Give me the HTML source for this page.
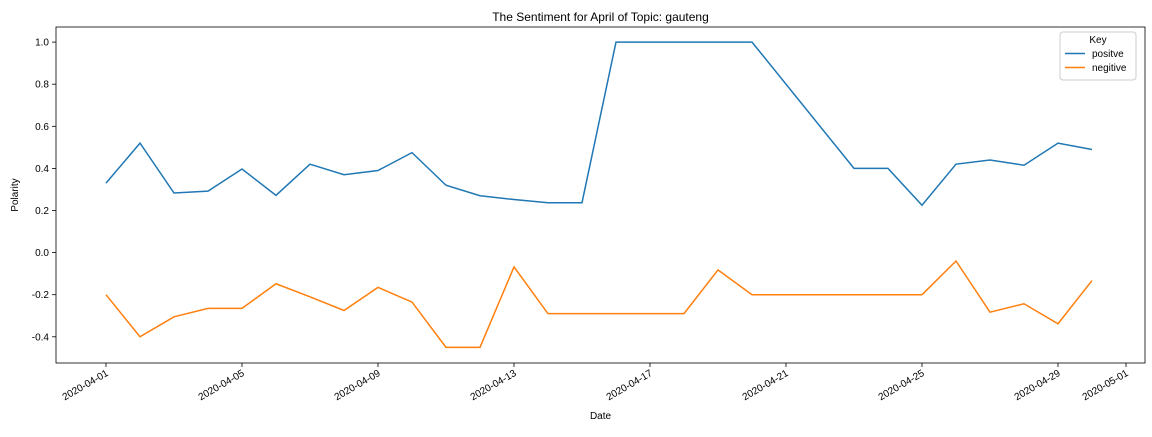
<!DOCTYPE html>
<html><head><meta charset="utf-8"><style>
body{margin:0;background:#fff;font-family:"Liberation Sans","DejaVu Sans",sans-serif;}
svg text{font-family:"Liberation Sans","DejaVu Sans",sans-serif;}
</style></head><body>
<svg id="c" width="1152" height="432" xmlns="http://www.w3.org/2000/svg"></svg>
<script>
const days=[1,2,3,4,5,6,7,8,9,10,11,12,13,14,15,16,17,18,19,20,23,24,25,26,27,28,29,30];
const positive=[0.33,0.52,0.283,0.292,0.397,0.272,0.42,0.37,0.39,0.475,0.32,0.27,0.252,0.237,0.237,1.0,1.0,1.0,1.0,1.0,0.40,0.40,0.225,0.42,0.44,0.415,0.52,0.49];
const negative=[-0.2,-0.4,-0.305,-0.265,-0.265,-0.148,-0.21,-0.275,-0.165,-0.235,-0.45,-0.45,-0.068,-0.29,-0.29,-0.29,-0.29,-0.29,-0.082,-0.2,-0.2,-0.2,-0.2,-0.04,-0.283,-0.243,-0.338,-0.133];
const yTicks=[1.0,0.8,0.6,0.4,0.2,0.0,-0.2,-0.4];
const xTickDays=[1,5,9,13,17,21,25,29,31];
const xTickLabels=["2020-04-01","2020-04-05","2020-04-09","2020-04-13","2020-04-17","2020-04-21","2020-04-25","2020-04-29","2020-05-01"];
const L=56,R=1145,T=27,B=363;
const x=d=>106+(d-1)*34;
const y=v=>252.6-v*210.5;
const svg=document.getElementById('c');
const NS="http://www.w3.org/2000/svg";
function mk(tag,attrs,parent){const e=document.createElementNS(NS,tag);for(const k in attrs)e.setAttribute(k,attrs[k]);(parent||svg).appendChild(e);return e;}
let t=mk('text',{x:(L+R)/2,y:21,'text-anchor':'middle','font-size':12});t.textContent="The Sentiment for April of Topic: gauteng";


yTicks.forEach(v=>{
  const l=mk('line',{x1:L-4,x2:L,y1:y(v),y2:y(v),stroke:'#000','stroke-width':0.8});
  
  
  const tx=mk('text',{x:L-7,y:y(v)+3.5,'text-anchor':'end','font-size':10});tx.textContent=v.toFixed(1);
  
  
});
xTickDays.forEach((d,i)=>{
  const l=mk('line',{x1:x(d),x2:x(d),y1:B,y2:B+4,stroke:'#000','stroke-width':0.8});
  
  
  const tx=mk('text',{x:x(d)+3,y:B+12,'text-anchor':'end','font-size':10,transform:`rotate(-30 ${x(d)+3} ${B+12})`});tx.textContent=xTickLabels[i];
  
  
});
t=mk('text',{x:(L+R)/2,y:419,'text-anchor':'middle','font-size':10});t.textContent="Date";


t=mk('text',{x:18,y:(T+B)/2,'text-anchor':'middle','font-size':10,transform:`rotate(-90 18 ${(T+B)/2})`});t.textContent="Polarity";


function series(vals,color,name){
  const p=mk('polyline',{points:days.map((d,i)=>x(d)+','+y(vals[i])).join(' '),fill:'none',stroke:color,'stroke-width':1.5});
  
  
}
series(positive,'#1f77b4','positive-line');
series(negative,'#ff7f0e','negative-line');
const fr=mk('rect',{x:L,y:T,width:R-L,height:B-T,fill:'none',stroke:'#000','stroke-width':0.8});


const lg=mk('g',{});


mk('rect',{x:1060,y:32,width:76,height:48,rx:3,fill:'#fff',stroke:'#ccc'},lg);
t=mk('text',{x:1098,y:43,'text-anchor':'middle','font-size':10},lg);t.textContent="Key";
[['positve','#1f77b4',57],['negitive','#ff7f0e',71]].forEach(([n,c,yy])=>{
  const e=mk('line',{x1:1065,x2:1085,y1:yy-3.5,y2:yy-3.5,stroke:c,'stroke-width':1.5},lg);
  
  
  const tx=mk('text',{x:1092,y:yy,'font-size':10},lg);tx.textContent=n;
  
  
});
</script>
</body></html>
